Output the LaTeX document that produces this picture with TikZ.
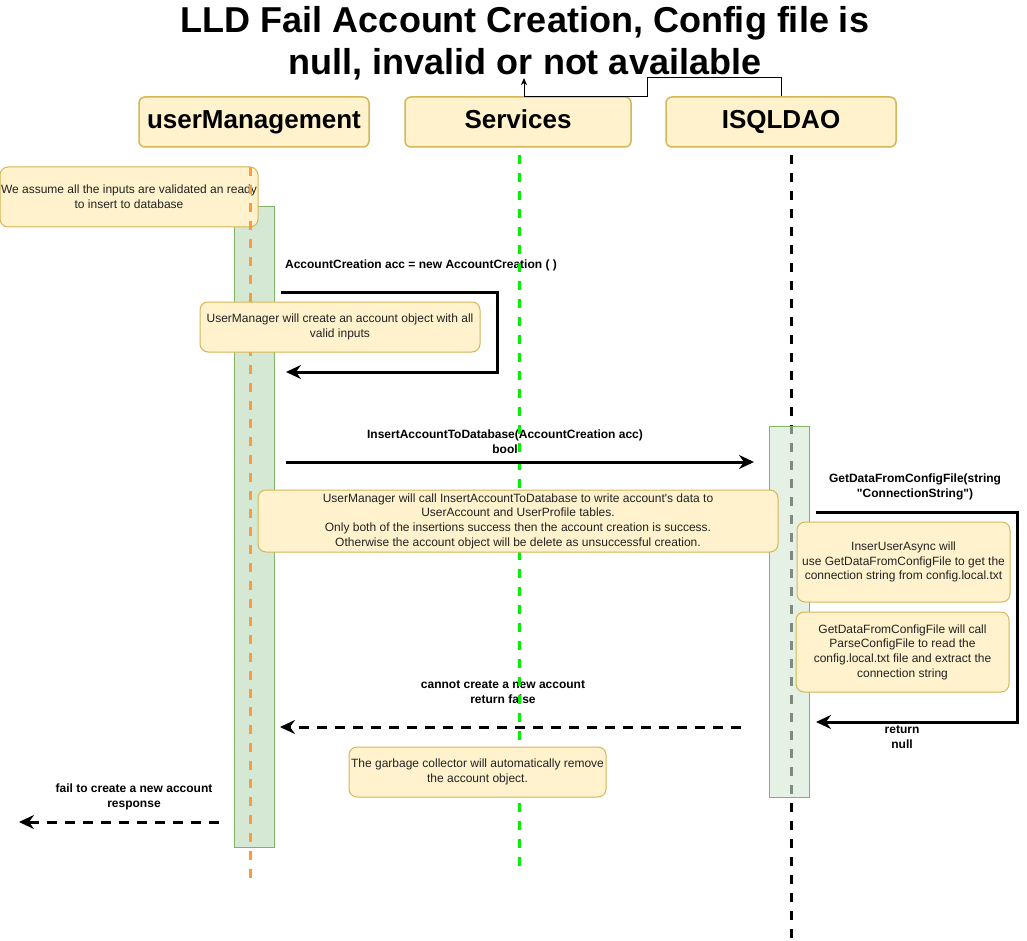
\documentclass[tikz,border=0pt]{standalone}
\usepackage{fontspec}
\setmainfont{Liberation Sans}[Ligatures=TeXOff]
\usetikzlibrary{arrows.meta}
\definecolor{notefill}{HTML}{FFF2CC}
\definecolor{noteborder}{HTML}{D6B656}
\definecolor{actfill}{HTML}{D5E8D4}
\definecolor{actborder}{HTML}{82B366}
\definecolor{lifeorange}{HTML}{FF9A3C}
\definecolor{lifegreen}{HTML}{00F000}
\definecolor{notetext}{HTML}{222222}
\tikzset{
  header/.style={draw=noteborder, fill=notefill, rounded corners=6pt, line width=1.5pt,
    minimum width=230pt, minimum height=50pt, inner sep=0pt,
    text height=19pt, text depth=5pt,
    font=\fontsize{26}{30}\selectfont\bfseries},
  note/.style={draw=noteborder, fill=notefill, rounded corners=8pt, line width=1pt,
    inner sep=0pt, align=center, text=notetext,
    font=\fontsize{12}{14.6}\selectfont},
  lbl/.style={align=center, inner sep=0pt, font=\fontsize{12}{14.6}\selectfont\bfseries},
  actbar/.style={draw=actborder, fill=actfill, line width=1pt, minimum width=40pt, inner sep=0pt},
  lifeline/.style={line width=3pt, dash pattern=on 9pt off 9pt},
  msg/.style={line width=3pt, miter limit=10, -{Stealth[length=15pt,width=14pt,inset=5pt]}},
  retmsg/.style={msg, dash pattern=on 10pt off 8pt},
}
\begin{document}
\begin{tikzpicture}[x=1pt,y=-1pt]
\useasboundingbox (0,0) rectangle (1027,941);
% title
\node[align=center, inner sep=0pt, font=\fontsize{36}{42}\selectfont\bfseries] (title) at (525,43)
  {LLD Fail Account Creation, Config file is\\null, invalid or not available};
% headers
\node[header] (um) at (254,122) {userManagement};
\node[header, minimum width=226pt] (svc) at (518,122) {Services};
\node[header] (isql) at (781,122) {ISQLDAO};
% connector from ISQLDAO to title
\coordinate (c1) at (647,78);
\coordinate (c2) at (647,97);
\coordinate (c3) at (524,97);
\coordinate (ttip) at (524,78);
\draw[line width=1pt, -{Stealth[length=7pt,width=6pt,inset=2pt]}] (isql.north) |- (c1) -- (c2) -- (c3) -- (ttip);
% labels
\node[lbl] (l1) at (421,265) {AccountCreation acc = new AccountCreation ( )};
\node[lbl] (l2) at (505,442) {InsertAccountToDatabase(AccountCreation acc)\\bool};
\node[lbl] (l3) at (915,487) {GetDataFromConfigFile(string\\"ConnectionString")};
\node[lbl] (l4) at (902,737) {return\\null};
\node[lbl] (l5) at (503,692) {cannot create a new account\\return false};
\node[lbl] (l6) at (134,797) {fail to create a new account\\response};
% userManagement activation, note and lifeline
\node[actbar, minimum height=640pt] (bar1) at (254,527) {};
\node[note, minimum width=258pt, minimum height=60pt] (n1) at (129,197)
  {We assume all the inputs are validated an ready\\to insert to database};
\coordinate (o1) at (250,167);
\coordinate (o2) at (250,878);
\draw[lifeline, draw=lifeorange] (o1) -- (o2);
% other lifelines
\coordinate (g1) at (519,155);
\coordinate (g2) at (519,868);
\draw[lifeline, draw=lifegreen] (g1) -- (g2);
\coordinate (k1) at (791,155);
\coordinate (k2) at (791,940);
\draw[lifeline, draw=black] (k1) -- (k2);
\node[actbar, minimum height=371pt, fill opacity=0.6] (bar2) at (789,611.5) {};
% messages
\coordinate (s1a) at (281,292);
\coordinate (s1b) at (497,292);
\coordinate (s1c) at (497,372);
\coordinate (s1d) at (286,372);
\draw[msg] (s1a) -- (s1b) -- (s1c) -- (s1d);
\coordinate (m2a) at (286,462);
\coordinate (m2b) at (754,462);
\draw[msg] (m2a) -- (m2b);
\coordinate (s3a) at (816,512);
\coordinate (s3b) at (1017,512);
\coordinate (s3c) at (1017,722);
\coordinate (s3d) at (816,722);
\draw[msg] (s3a) -- (s3b) -- (s3c) -- (s3d);
\coordinate (r1a) at (741,727);
\coordinate (r1b) at (280,727);
\draw[retmsg] (r1a) -- (r1b);
\coordinate (r2a) at (219,822);
\coordinate (r2b) at (19,822);
\draw[retmsg] (r2a) -- (r2b);
% notes
\node[note, minimum width=280pt, minimum height=50pt] (n2) at (340,327)
  {UserManager will create an account object with all\\valid inputs};
\node[note, minimum width=520pt, minimum height=62pt] (n3) at (518,521)
  {UserManager will call InsertAccountToDatabase to write account's data to\\UserAccount and UserProfile tables.\\Only both of the insertions success then the account creation is success.\\Otherwise the account object will be delete as unsuccessful creation.};
\node[note, minimum width=213pt, minimum height=80pt] (n4) at (903.5,562)
  {InserUserAsync will\\use GetDataFromConfigFile to get the\\connection string from config.local.txt};
\node[note, minimum width=213pt, minimum height=80pt] (n5) at (902.5,652)
  {GetDataFromConfigFile will call\\ParseConfigFile to read the\\config.local.txt file and extract the\\connection string};
\node[note, minimum width=257pt, minimum height=50pt] (n6) at (477.5,772)
  {The garbage collector will automatically remove\\the account object.};
\end{tikzpicture}
\end{document}
